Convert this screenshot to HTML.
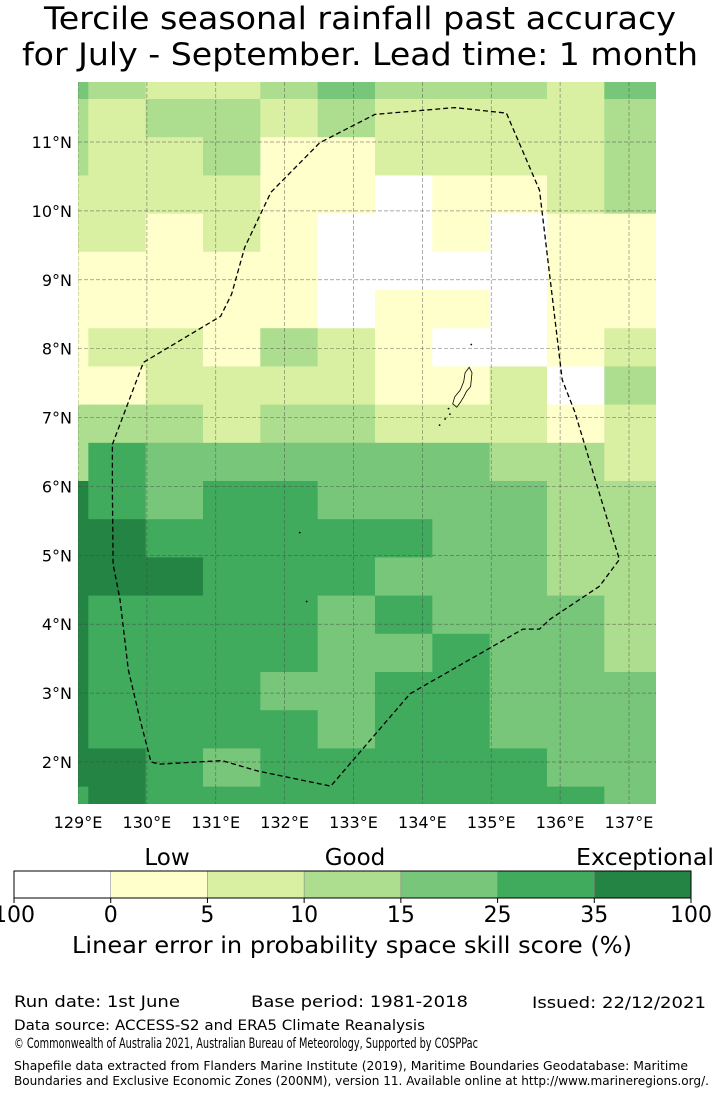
<!DOCTYPE html>
<html><head><meta charset="utf-8"><style>
html,body{margin:0;padding:0;background:#fff;}
svg{display:block;font-family:"DejaVu Sans","Liberation Sans",sans-serif;}
</style></head><body>
<svg id="chart" width="720" height="1095" viewBox="0 0 720 1095" xmlns="http://www.w3.org/2000/svg">
<text x="360" y="29" font-size="31" text-anchor="middle" textLength="632" lengthAdjust="spacingAndGlyphs">Tercile seasonal rainfall past accuracy</text>
<text x="360" y="65" font-size="31" text-anchor="middle" textLength="676" lengthAdjust="spacingAndGlyphs">for July - September. Lead time: 1 month</text>
<defs><clipPath id="mapclip"><rect x="78" y="82" width="578" height="722"/></clipPath></defs>
<g id="cells" clip-path="url(#mapclip)"></g>
<g id="grid" clip-path="url(#mapclip)"></g>
<g id="eez" clip-path="url(#mapclip)"></g>
<g id="ticks"></g>
<g id="cbar"></g>
<text x="167" y="865" font-size="23" text-anchor="middle">Low</text>
<text x="355" y="865" font-size="23" text-anchor="middle">Good</text>
<text x="645" y="865" font-size="23" text-anchor="middle" textLength="138" lengthAdjust="spacingAndGlyphs">Exceptional</text>
<text x="352" y="953" font-size="23" text-anchor="middle" textLength="560" lengthAdjust="spacingAndGlyphs">Linear error in probability space skill score (%)</text>
<text x="14" y="1007" font-size="16" textLength="166" lengthAdjust="spacingAndGlyphs">Run date: 1st June</text>
<text x="251" y="1007" font-size="16" textLength="217" lengthAdjust="spacingAndGlyphs">Base period: 1981-2018</text>
<text x="532" y="1008" font-size="16" textLength="174" lengthAdjust="spacingAndGlyphs">Issued: 22/12/2021</text>
<text x="14" y="1030" font-size="14" textLength="411" lengthAdjust="spacingAndGlyphs">Data source: ACCESS-S2 and ERA5 Climate Reanalysis</text>
<text x="14" y="1048" font-size="14" textLength="464" lengthAdjust="spacingAndGlyphs">© Commonwealth of Australia 2021, Australian Bureau of Meteorology, Supported by COSPPac</text>
<text x="14" y="1070" font-size="12" textLength="674" lengthAdjust="spacingAndGlyphs">Shapefile data extracted from Flanders Marine Institute (2019), Maritime Boundaries Geodatabase: Maritime</text>
<text x="14" y="1085" font-size="12" textLength="695" lengthAdjust="spacingAndGlyphs">Boundaries and Exclusive Economic Zones (200NM), version 11. Available online at http://www.marineregions.org/.</text>
</svg>
<script>
const skillRows = [
 [4,3,2,2,3,4,3,3,3,2,4],
 [3,2,3,3,2,3,2,2,2,2,3],
 [3,2,2,3,1,1,2,2,2,2,3],
 [2,2,2,2,1,1,0,1,1,2,3],
 [2,2,1,2,1,0,0,1,0,1,1],
 [1,1,1,1,1,0,0,0,0,1,1],
 [1,1,1,1,1,0,1,1,0,1,1],
 [1,2,2,1,3,2,1,0,0,1,2],
 [1,1,2,2,2,2,1,1,2,0,3],
 [3,3,3,2,3,3,2,2,2,1,2],
 [3,5,4,4,4,4,4,4,3,3,2],
 [6,5,4,5,5,4,4,4,4,3,3],
 [6,6,5,5,5,5,5,4,4,3,3],
 [6,6,6,5,5,5,4,4,4,3,3],
 [6,5,5,5,5,4,5,4,4,4,3],
 [6,5,5,5,5,4,4,5,4,4,3],
 [6,5,5,5,4,4,5,5,4,4,4],
 [6,5,5,5,5,4,5,5,4,4,4],
 [6,6,5,4,5,5,5,5,5,4,4],
 [5,6,5,5,5,5,5,5,5,5,4]
];
const levelColors = ["#ffffff","#ffffcc","#d9f0a3","#addd8e","#78c679","#41ab5d","#238443"];
const cbarTicks = ["100","0","5","10","15","25","35","100"];
const lonTicks = [129,130,131,132,133,134,135,136,137];
const latTicks = [11,10,9,8,7,6,5,4,3,2];
const eezLon = [129.5,129.95,131.07,131.23,131.42,131.8,132.51,133.31,134.47,135.22,135.7,136.03,136.21,136.86,136.57,135.85,135.7,135.46,133.82,132.67,131.61,131.09,130.19,130.06,129.9,129.73,129.61,129.51,129.5,129.5];
const eezLat = [6.61,7.8,8.47,8.79,9.47,10.27,10.99,11.4,11.5,11.42,10.3,7.55,7.09,4.94,4.55,4.07,3.93,3.93,2.99,1.65,1.87,2.02,1.97,2.0,2.62,3.34,4.36,4.87,5.91,6.61];
const palauLon = [134.68,134.72,134.7,134.64,134.6,134.55,134.5,134.44,134.47,134.55,134.6,134.62,134.68];
const palauLat = [7.73,7.65,7.45,7.38,7.3,7.22,7.15,7.2,7.3,7.4,7.52,7.65,7.73];

const NS="http://www.w3.org/2000/svg";
const xS = lon => 78 + (lon-129)*68.875;
const yS = lat => 142 + (11-lat)*68.89;
const lon0 = 128.99, dLon = 0.8324, dLat = 0.5545;
function mk(tag, attrs, parent){const e=document.createElementNS(NS,tag);for(const k in attrs)e.setAttribute(k,attrs[k]);parent.appendChild(e);return e;}

const cells=document.getElementById('cells');
skillRows.forEach((row,r)=>{row.forEach((v,c)=>{
  let l1 = c===0 ? 128.84 : lon0+0.16+(c-1)*dLon; let l2 = lon0+0.16+c*dLon;
  let la = 11.624-(r-1)*dLat, lb = 11.624-r*dLat;
  if(r===0){la=12.0;}
  const x1=xS(l1), x2=xS(l2), y1=yS(la), y2=yS(lb);
  const e=mk('rect',{x:x1,y:y1,width:x2-x1+0.5,height:y2-y1+0.5,fill:levelColors[v]},cells);
  
  
});});

const grid=document.getElementById('grid');
lonTicks.forEach(l=>{const e=mk('line',{x1:xS(l),x2:xS(l),y1:82,y2:804,stroke:'#444','stroke-width':0.7,'stroke-dasharray':'4,2','stroke-opacity':0.6},grid);
  
  });
latTicks.forEach(l=>{const e=mk('line',{x1:78,x2:656,y1:yS(l),y2:yS(l),stroke:'#444','stroke-width':0.7,'stroke-dasharray':'4,2','stroke-opacity':0.6},grid);
  
  });

const eez=document.getElementById('eez');
let d=eezLon.map((l,i)=>(i?'L':'M')+xS(l).toFixed(1)+','+yS(eezLat[i]).toFixed(1)).join(' ');
const p=mk('path',{d:d,fill:'none',stroke:'#000','stroke-width':1.3,'stroke-dasharray':'5,3'},eez);


let d2=palauLon.map((l,i)=>(i?'L':'M')+xS(l).toFixed(1)+','+yS(palauLat[i]).toFixed(1)).join(' ')+'Z';
const pl=mk('path',{d:d2,fill:'none',stroke:'#000','stroke-width':0.8},eez);


[[134.25,6.89],[134.33,6.98],[134.4,7.05],[134.38,7.13],[134.71,8.06],[132.22,5.33],[132.32,4.33]].forEach(q=>{const e=mk('circle',{cx:xS(q[0]),cy:yS(q[1]),r:0.9,fill:'#000'},eez);
  
  });

const ticks=document.getElementById('ticks');
lonTicks.forEach(l=>{const t=mk('text',{x:xS(l),y:828,'font-size':16,'text-anchor':'middle'},ticks);t.textContent=l+'°E';
  
  });
latTicks.forEach(l=>{const t=mk('text',{x:72,y:yS(l)+6,'font-size':16,'text-anchor':'end'},ticks);t.textContent=l+'°N';
  
  });

const cb=document.getElementById('cbar');
const cbX=14, cbW=677, seg=cbW/levelColors.length;
levelColors.forEach((col,i)=>{const e=mk('rect',{x:cbX+i*seg,y:871,width:seg,height:27,fill:col,stroke:'#888','stroke-width':0.5},cb);
  
  });
const fr=mk('rect',{x:cbX,y:871,width:cbW,height:27,fill:'none',stroke:'#000','stroke-width':1},cb);


cbarTicks.forEach((s,i)=>{const x=cbX+i*seg;
  const tk=mk('line',{x1:x,x2:x,y1:898,y2:903,stroke:'#000','stroke-width':1},cb);
  
  
  const t=mk('text',{x:x,y:922,'font-size':22,'text-anchor':'middle'},cb);t.textContent=s;
  
  });
</script>
</body></html>
